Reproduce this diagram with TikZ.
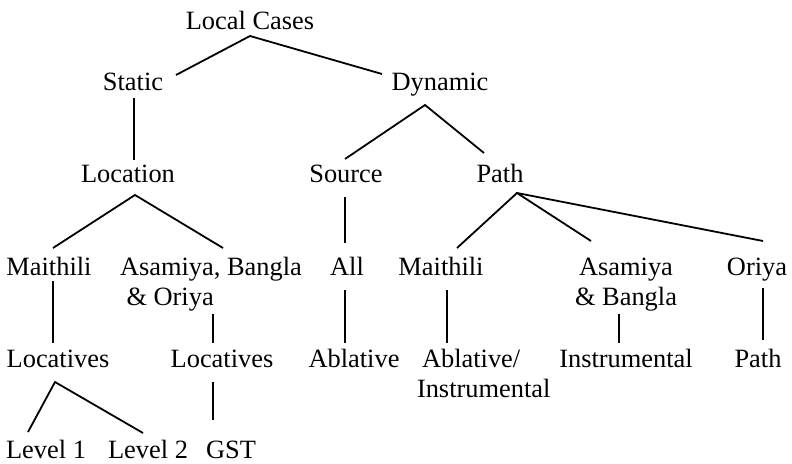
\documentclass[tikz,border=0pt]{standalone}
\usepackage{fontspec}
\setmainfont{Liberation Serif}
\usepackage{tikz}

\begin{document}
\begin{tikzpicture}[x=1pt,y=-1pt,
    every node/.style={inner sep=0pt,outer sep=0pt,anchor=base,
      font=\fontsize{26.4}{30}\selectfont},
    branch/.style={line width=1.8pt}]
        \useasboundingbox[fill=white] (0,0) rectangle (792,463);
        % levels of the tree
        \node (lc) at (250,29) {Local Cases};
        \node (st) at (133,90) {Static};
        \node (dy) at (440,90) {Dynamic};
        \node (loc) at (128,182) {Location};
        \node (src) at (346,182) {Source};
        \node (pth) at (500,182) {Path};
        \node (m1) at (49,275) {Maithili};
        \node[anchor=base west,align=left] (abo) at (120,305) {Asamiya, Bangla\\\hspace*{6.5pt}\& Oriya};
        \node (all) at (347,275) {All};
        \node (m2) at (441,275) {Maithili};
        \node[align=center] (ab) at (626,305) {Asamiya\\\& Bangla};
        \node (ori) at (757,275) {Oriya};
        \node (lv1) at (58,367) {Locatives};
        \node (lv2) at (222,367) {Locatives};
        \node (abl) at (354,367) {Ablative};
        \node[anchor=base west,align=left] (ai) at (417,397) {\hspace*{5pt}Ablative/\\Instrumental};
        \node (ins) at (626,367) {Instrumental};
        \node (p2) at (758,367) {Path};
        \node (l1) at (46,458) {Level 1};
        \node (l2) at (148,458) {Level 2};
        \node (gst) at (231,458) {GST};
        % branches
        \draw[branch] ([shift={(43,-15)}]st.base) -- ([shift={(0,7)}]lc.base) -- ([shift={(-58,-16)}]dy.base);
        \draw[branch] ([shift={(1,8)}]st.base) -- ([shift={(6,-22)}]loc.base);
        \draw[branch] ([shift={(-1,-23)}]src.base) -- ([shift={(-15,15)}]dy.base) -- ([shift={(-16,-29)}]pth.base);
        \draw[branch] ([shift={(4,-27)}]m1.base) -- ([shift={(7,13)}]loc.base) -- ([shift={(103,-57)}]abo.base west);
        \draw[branch] ([shift={(-1,15)}]src.base) -- ([shift={(-2,-32)}]all.base);
        \draw[branch] ([shift={(16,-27)}]m2.base) -- ([shift={(17,11)}]pth.base) -- ([shift={(-35,-64)}]ab.base);
        \draw[branch] ([shift={(17,11)}]pth.base) -- ([shift={(6,-34)}]ori.base);
        \draw[branch] ([shift={(4,6)}]m1.base) -- ([shift={(-5,-24)}]lv1.base);
        \draw[branch] ([shift={(93,9)}]abo.base west) -- ([shift={(-9,-24)}]lv2.base);
        \draw[branch] ([shift={(-2,15)}]all.base) -- ([shift={(-9,-24)}]abl.base);
        \draw[branch] ([shift={(6,15)}]m2.base) -- ([shift={(30,-54)}]ai.base west);
        \draw[branch] ([shift={(-7,9)}]ab.base) -- ([shift={(-7,-24)}]ins.base);
        \draw[branch] ([shift={(6,13)}]ori.base) -- ([shift={(5,-27)}]p2.base);
        \draw[branch] ([shift={(-18,-26)}]l1.base) -- ([shift={(-3,15)}]lv1.base) -- ([shift={(-5,-25)}]l2.base);
        \draw[branch] ([shift={(-9,15)}]lv2.base) -- ([shift={(-18,-38)}]gst.base);
\end{tikzpicture}
\end{document}
